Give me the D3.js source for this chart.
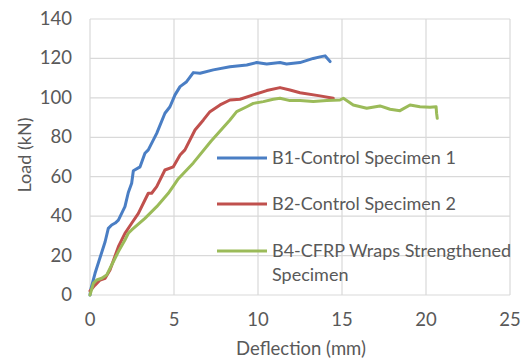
<!DOCTYPE html>
<meta charset="utf-8">
<style>

body {
  margin: 0;
  background: #fff;
}

text {
  font-family: Lato, "Open Sans", sans-serif;
  fill: #595959;
}

</style>
<body>
<script src="https://cdn.jsdelivr.net/npm/d3@7"></script>
<script>

var width = 531,
    height = 363;

var xTicks = [0, 5, 10, 15, 20, 25],
    yTicks = [0, 20, 40, 60, 80, 100, 120, 140];

var seriesNames = ["B1-Control Specimen 1", "B2-Control Specimen 2", "B4-CFRP Wraps Strengthened Specimen"],
    seriesColors = ["#4a7ec4", "#c0504d", "#9bbb59"];

// deflection (mm), load (kN)
var b1 = [[0,0],[0.05,3],[0.3,11],[0.6,19],[0.9,27],[1.09,33.8],[1.29,35.5],[1.5,36.5],[1.69,38],
  [2.08,44.8],[2.28,52],[2.48,56.7],[2.58,63],[2.98,65],[3.27,71.9],[3.47,73.6],[3.97,82],
  [4.46,92.2],[4.76,95.5],[5.06,101.5],[5.36,105.7],[5.75,108.2],[6.15,112.8],[6.55,112.5],
  [7.34,114.2],[8.33,115.8],[9.33,116.7],[9.92,117.9],[10.52,117.2],[11.31,117.9],[11.7,117.2],
  [12.5,117.9],[13.29,120],[13.69,120.8],[13.99,121.3],[14.29,118.4]];

var b2 = [[0,2],[0.3,5],[0.6,7.6],[0.9,8.5],[1.19,12.7],[1.69,24.5],[2.08,31.3],[2.48,36.4],
  [2.88,41.4],[3.27,48.2],[3.47,51.6],[3.67,51.6],[3.97,55],[4.46,63.4],[4.96,65],[5.36,71],
  [5.65,73.6],[6.25,83.7],[6.75,88.8],[7.14,93],[7.74,96.4],[8.33,98.9],[8.93,99.3],[9.72,101.5],
  [10.52,103.7],[11.31,105.2],[11.9,104],[12.5,102.6],[13.69,101],[14.48,99.8]];

var b4 = [[0,0],[0.2,5.9],[0.4,7.6],[0.7,8.5],[0.99,10.1],[1.29,15.2],[1.69,22],[2.08,27.9],
  [2.28,31.3],[2.48,33],[3.27,38.9],[3.97,44.8],[4.66,51.6],[5.06,56.5],[5.26,59],[6.15,67],
  [7.2,78],[8.33,88.8],[8.73,93],[9.33,95.5],[9.72,97.2],[10.32,98.1],[10.91,99.3],[11.31,99.8],
  [11.9,98.6],[12.5,98.6],[13.29,98.1],[14.09,98.6],[14.88,98.9],[15.08,99.8],[15.67,96.4],
  [16.47,94.7],[17.26,95.9],[17.86,94.2],[18.45,93.5],[19.05,96.4],[19.64,95.5],[20.24,95.2],
  [20.6,95.5],[20.63,92.2],[20.67,89.6]];

var series = [b1, b2, b4];

var svg = d3.select("body").append("svg")
    .attr("width", width)
    .attr("height", height);

var x = d3.scaleLinear().domain([0, 25]).range([90, 510]),
    y = d3.scaleLinear().domain([0, 140]).range([295, 19]);

svg.append("g").selectAll("line")
    .data(yTicks)
  .enter().append("line")
    .attr("x1", x(0)).attr("x2", x(25))
    .attr("y1", function(d) { return y(d); })
    .attr("y2", function(d) { return y(d); })
    .attr("stroke", "#d9d9d9")
    .attr("stroke-width", 1.2);

svg.append("g").selectAll("line")
    .data(xTicks)
  .enter().append("line")
    .attr("x1", function(d) { return x(d); })
    .attr("x2", function(d) { return x(d); })
    .attr("y1", y(0)).attr("y2", y(140))
    .attr("stroke", "#d9d9d9")
    .attr("stroke-width", 1.2);

svg.append("g").selectAll("text")
    .data(yTicks)
  .enter().append("text")
    .attr("x", 72)
    .attr("y", function(d) { return y(d) + 6; })
    .attr("text-anchor", "end")
    .style("font-size", "18.5px")
    .text(function(d) { return d; });

svg.append("g").selectAll("text")
    .data(xTicks)
  .enter().append("text")
    .attr("x", function(d) { return x(d); })
    .attr("y", 326)
    .attr("text-anchor", "middle")
    .style("font-size", "18.5px")
    .text(function(d) { return d; });

svg.append("text")
    .attr("x", 301)
    .attr("y", 355)
    .attr("text-anchor", "middle")
    .style("font-size", "18.5px")
    .text("Deflection (mm)");

svg.append("text")
    .attr("transform", "translate(31,155) rotate(-90)")
    .attr("text-anchor", "middle")
    .style("font-size", "18px")
    .text("Load (kN)");

var line = d3.line()
    .x(function(d) { return x(d[0]); })
    .y(function(d) { return y(d[1]); });

svg.append("g").selectAll("path")
    .data(series)
  .enter().append("path")
    .attr("d", line)
    .attr("fill", "none")
    .attr("stroke", function(d, i) { return seriesColors[i]; })
    .attr("stroke-width", 3)
    .attr("stroke-linejoin", "round")
    .attr("stroke-linecap", "round");

// legend
var legendY = [158, 204, 251];

var lg = svg.append("g").selectAll("g")
    .data(seriesNames)
  .enter().append("g")
    .attr("transform", function(d, i) { return "translate(217," + legendY[i] + ")"; });

lg.append("line")
    .attr("x1", 0).attr("x2", 50)
    .attr("stroke", function(d, i) { return seriesColors[i]; })
    .attr("stroke-width", 3);

lg.append("text")
    .attr("x", 55)
    .attr("y", 6)
    .style("font-size", "18px")
    .each(function(d, i) {
      var t = d3.select(this);
      if (i == 2) {
        t.append("tspan").attr("x", 55).text("B4-CFRP Wraps Strengthened");
        t.append("tspan").attr("x", 55).attr("dy", 24).text("Specimen");
      } else {
        t.text(d);
      }
    });

</script>
